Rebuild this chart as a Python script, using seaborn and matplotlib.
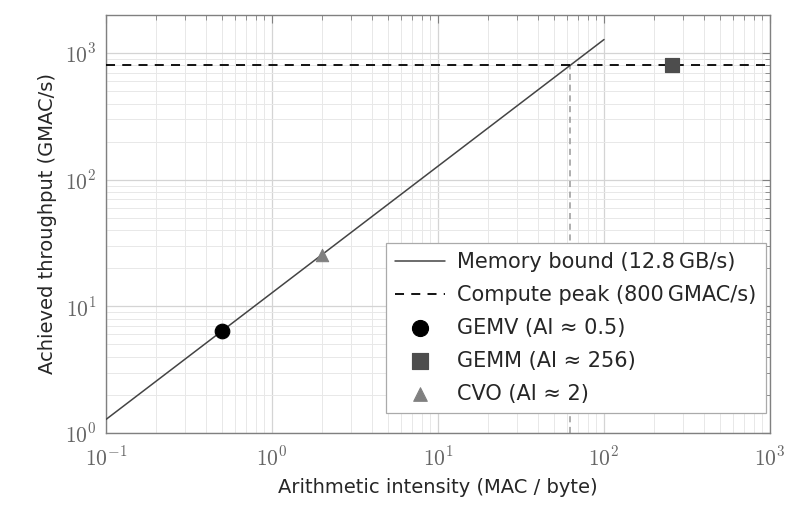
import numpy as np
import pandas as pd
import matplotlib
matplotlib.use("Agg")
import matplotlib.pyplot as plt
import matplotlib.ticker as mticker
import seaborn as sns

# roofline data
bandwidth = 12.8          # GB/s
peak = 800.0              # GMAC/s
ai_line = [0.1, 100.0]
perf_line = [bandwidth * a for a in ai_line]
ridge = peak / bandwidth

kernels = ["GEMV (AI \u2248 0.5)", "GEMM (AI \u2248 256)", "CVO (AI \u2248 2)"]
kernel_ai = [0.5, 256.0, 2.0]
kernel_perf = [6.4, 800.0, 25.6]
kernel_markers = ["o", "s", "^"]
kernel_colors = ["#000000", "#4d4d4d", "#808080"]
kernel_sizes = [110, 110, 80]

sns.set_style("white")
plt.rcParams["font.family"] = ["DejaVu Sans"]
plt.rcParams["mathtext.fontset"] = "cm"

fig = plt.figure(figsize=(7.99, 5.17), dpi=100)
ax = fig.add_axes([0.1327, 0.1625, 0.831, 0.8085])

ax.set_xscale("log")
ax.set_yscale("log")

df_line = pd.DataFrame({"ai": ai_line, "perf": perf_line})
sns.lineplot(data=df_line, x="ai", y="perf", ax=ax, color="#444444", lw=1.1,
             label="Memory bound (12.8\u2009GB/s)", zorder=3)
ax.axhline(peak, color="black", ls=(0, (5, 4)), lw=1.3,
           label="Compute peak (800\u2009GMAC/s)", zorder=3)
ax.plot([ridge, ridge], [1, peak], color="#999999", ls=(0, (4, 3)), lw=1.1, zorder=2)

for name, a, p, m, c, s in zip(kernels, kernel_ai, kernel_perf, kernel_markers,
                                kernel_colors, kernel_sizes):
    sns.scatterplot(x=[a], y=[p], ax=ax, marker=m, color=c, s=s, edgecolor=c,
                    label=name, zorder=5)

ax.set_xlim(0.1, 1000)
ax.set_ylim(1, 2000)

fmt = mticker.FuncFormatter(lambda v, pos: r"$10^{%d}$" % int(round(np.log10(v))))
ax.xaxis.set_major_formatter(fmt)
ax.yaxis.set_major_formatter(fmt)

ax.grid(True, which="major", color="#d4d4d4", lw=0.9)
ax.grid(True, which="minor", color="#e8e8e8", lw=0.7)
for sp in ax.spines.values():
    sp.set_color("#808080")
    sp.set_linewidth(1.0)
ax.tick_params(which="both", direction="in", top=True, right=True, color="#808080")
ax.tick_params(which="major", length=6, labelsize=15.5, labelcolor="#666666")
ax.tick_params(axis="x", which="major", pad=9)
ax.tick_params(axis="y", which="major", pad=7)
ax.tick_params(which="minor", length=3.5)

ax.set_xlabel("Arithmetic intensity (MAC / byte)", fontsize=14, labelpad=6)
ax.set_ylabel("Achieved throughput (GMAC/s)", fontsize=14, labelpad=6)

leg = ax.legend(loc="lower right", bbox_to_anchor=(0.994, 0.048), borderaxespad=0,
                fontsize=15, frameon=True, fancybox=False, edgecolor="#aaaaaa",
                framealpha=1, handlelength=2.4, handletextpad=0.6, borderpad=0.45,
                labelspacing=0.62, markerscale=1.1)
leg.get_frame().set_linewidth(0.9)

fig.savefig("out.png", dpi=100)
